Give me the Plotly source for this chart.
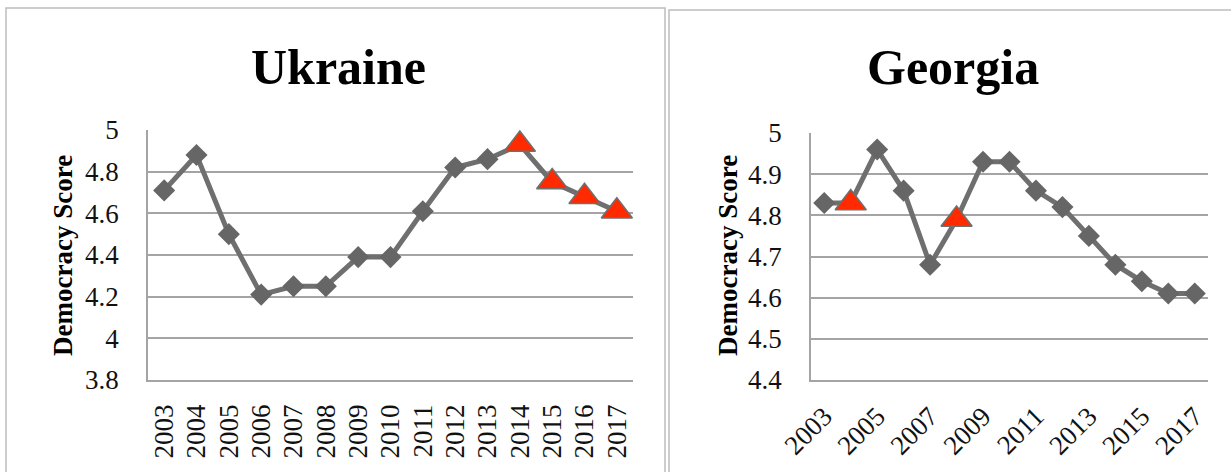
import plotly.graph_objects as go

# Democracy scores, 2003-2017
years = [str(y) for y in range(2003, 2018)]
ukraine = [4.71, 4.88, 4.50, 4.21, 4.25, 4.25, 4.39, 4.39, 4.61, 4.82, 4.86, 4.93, 4.75, 4.68, 4.61]
georgia = [4.83, 4.83, 4.96, 4.86, 4.68, 4.79, 4.93, 4.93, 4.86, 4.82, 4.75, 4.68, 4.64, 4.61, 4.61]

# years drawn with a red triangle instead of a grey diamond
ukraine_flagged = ["2014", "2015", "2016", "2017"]
georgia_flagged = ["2004", "2008"]

ukraine_yticks = [3.8, 4, 4.2, 4.4, 4.6, 4.8, 5]
georgia_yticks = [4.4, 4.5, 4.6, 4.7, 4.8, 4.9, 5]
ukraine_xticks = years
georgia_xticks = years[::2]

W, H = 1231, 472
GREY_LINE = "#6f6f6f"
GREY_MARK = "#666666"
RED = "#ff2a00"
GRID = "#a4a4a4"
FONT = "Liberation Serif"


def fx(px):
    return px / W


def fy(px):
    return 1 - px / H


def series(name, values, flagged, xa, ya):
    symbols = ["triangle-up" if y in flagged else "diamond" for y in years]
    colors = [RED if y in flagged else GREY_MARK for y in years]
    sizes = [27 if y in flagged else 17 for y in years]
    outline = [1.5 if y in flagged else 0 for y in years]
    return go.Scatter(
        x=years, y=values, name=name, mode="lines+markers",
        xaxis=xa, yaxis=ya, showlegend=False, cliponaxis=False,
        line=dict(color=GREY_LINE, width=5),
        marker=dict(symbol=symbols, color=colors, size=sizes, opacity=1,
                    sizemode="diameter", sizeref=1, sizemin=0,
                    line=dict(color=GREY_LINE, width=outline)),
    )


fig = go.Figure()
fig.add_trace(series("Ukraine", ukraine, ukraine_flagged, "x", "y"))
fig.add_trace(series("Georgia", georgia, georgia_flagged, "x2", "y2"))

axis_font = dict(family=FONT, size=27, color="#111111")

common = dict(automargin=False, ticks="", fixedrange=True)
cat_range = [-0.5, len(years) - 0.5]

fig.update_layout(
    template="none",
    width=W, height=H,
    margin=dict(l=0, r=0, t=0, b=0, pad=0, autoexpand=False),
    paper_bgcolor="white", plot_bgcolor="white",
    font=dict(family=FONT, color="#111111"),
    xaxis=dict(domain=[fx(148), fx(633)], type="category",
               categoryorder="array", categoryarray=years, range=cat_range,
               tickvals=ukraine_xticks, tickangle=-90, tickfont=axis_font,
               showgrid=False, showline=True, linecolor=GRID, linewidth=1.5,
               ticklabelstandoff=12, **common),
    yaxis=dict(domain=[fy(380), fy(130)], range=[3.8, 5],
               tickvals=ukraine_yticks, tickfont=axis_font,
               showgrid=True, gridcolor=GRID, gridwidth=1.5,
               showline=True, linecolor=GRID, linewidth=1.5,
               zeroline=False, ticklabelstandoff=22, **common),
    xaxis2=dict(domain=[fx(811), fx(1208)], type="category",
                categoryorder="array", categoryarray=years, range=cat_range,
                tickvals=georgia_xticks, tickangle=-45, tickfont=axis_font,
                showgrid=False, showline=True, linecolor=GRID,
                linewidth=1.5, anchor="y2", ticklabelstandoff=8, **common),
    yaxis2=dict(domain=[fy(380), fy(133)], range=[4.4, 5],
                tickvals=georgia_yticks, tickfont=axis_font,
                showgrid=True, gridcolor=GRID, gridwidth=1.5,
                showline=True, linecolor=GRID, linewidth=1.5,
                zeroline=False, anchor="x2", ticklabelstandoff=22, **common),
)

# chart frames
fig.add_shape(type="rect", xref="paper", yref="paper",
              x0=fx(6), x1=fx(665), y0=-0.05, y1=fy(8),
              line=dict(color="#bdbdbd", width=1.5), layer="below")
fig.add_shape(type="rect", xref="paper", yref="paper",
              x0=fx(669), x1=1.05, y0=-0.05, y1=fy(10),
              line=dict(color="#bdbdbd", width=1.5), layer="below")

# titles
for text, cx in (("Ukraine", 338), ("Georgia", 953)):
    fig.add_annotation(text=f"<b>{text}</b>", xref="paper", yref="paper",
                       x=fx(cx), y=fy(67), showarrow=False,
                       xanchor="center", yanchor="middle",
                       font=dict(family=FONT, size=50, color="#000000"))

# y-axis titles
for cx in (63, 728):
    fig.add_annotation(text="<b>Democracy Score</b>", xref="paper", yref="paper",
                       x=fx(cx), y=fy(256), showarrow=False, textangle=-90,
                       xanchor="center", yanchor="middle",
                       font=dict(family=FONT, size=27, color="#000000"))

fig.write_html("out.html")
